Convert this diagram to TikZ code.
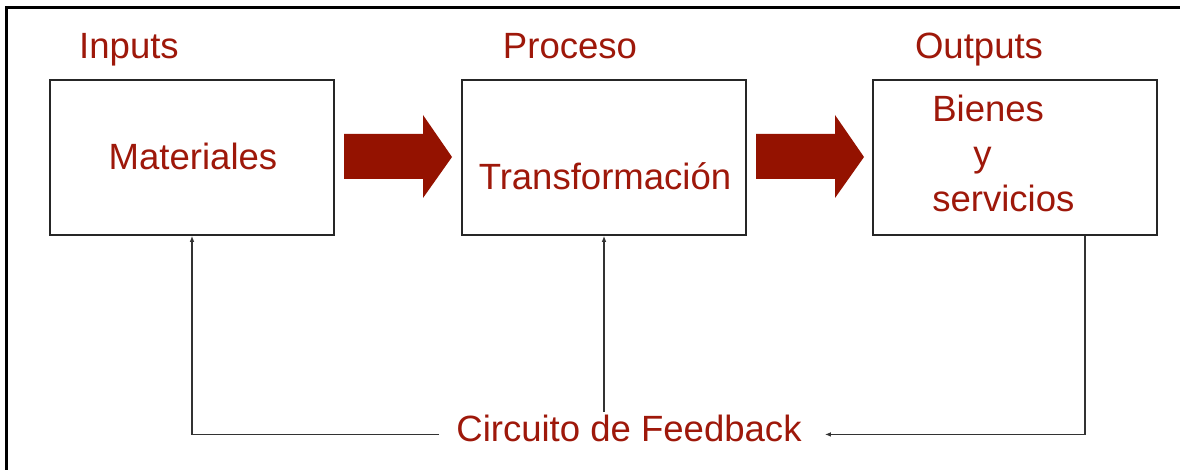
\documentclass[tikz,border=0pt]{standalone}
\usepackage{fontspec}
\setmainfont{Liberation Sans}
\usetikzlibrary{arrows.meta,calc}
\definecolor{arrred}{RGB}{148,18,0}
\definecolor{txtred}{RGB}{158,24,10}
\tikzset{
	box/.style={draw=black!85, line width=1.2pt, minimum width=213pt, minimum height=116.25pt},
	lbl/.style={text=txtred, inner sep=0pt, font=\fontsize{27.4pt}{33pt}\selectfont},
	fbline/.style={draw=black!80, line width=0.9pt, -{Latex[length=4.5pt,width=3.5pt]}},
	bigarrow/.style={fill=arrred}
}
\begin{document}
\begin{tikzpicture}[x=0.75pt,y=-0.75pt]
		\useasboundingbox (0,0) rectangle (1180,470);
		\fill[white] (0,0) rectangle (1180,470);
		\draw[line width=2.2pt] (6.3,472) -- (6.3,7.5) -- (1182,7.5);
		% titles
		\node[lbl, anchor=base] (inp) at (129,59) {Inputs};
		\node[lbl, anchor=base] (proc) at (570,59) {Proceso};
		\node[lbl, anchor=base] (outl) at (979,59) {Outputs};
		% boxes
		\node[box] (mat) at (192,157.5) {};
		\node[box] (trans) at (604,157.5) {};
		\node[box] (outp) at (1015,157.5) {};
		\node[lbl, anchor=base] (matT) at (193,170) {Materiales};
		\node[lbl, anchor=base] (transT) at (605,190) {Transformación};
		\node[lbl, anchor=base west] (bien) at (932,122) {Bienes};
		\node[lbl, anchor=base west] (yy) at (973,167) {y};
		\node[lbl, anchor=base west] (serv) at (932,212) {servicios};
		% block arrows
		\foreach \x in {344,756}
			\fill[bigarrow] (\x,134) -- (\x+79,134) -- ++(0,-19) -- (\x+108,157) -- (\x+79,198) -- ++(0,-19) -- (\x,179) -- cycle;
		% feedback
		\node[lbl, anchor=base] (fb) at (629,441) {Circuito de Feedback};
		\draw[fbline] ($(outp.south)+(70,0)$) |- ($(fb.east)+(23,6.5)$);
		\draw[fbline] ($(fb.west)+(-17,6.5)$) -| (mat.south);
		\draw[fbline, shorten <=2pt] (trans.south |- fb.north) -- (trans.south);
	\end{tikzpicture}
\end{document}
